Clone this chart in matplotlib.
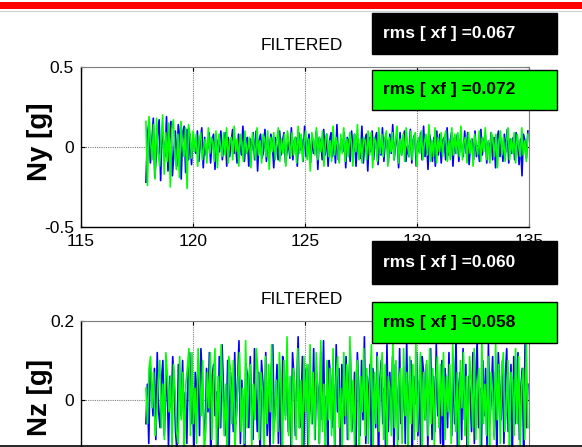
import numpy as np
import matplotlib
matplotlib.use('Agg')
import matplotlib.pyplot as plt
from matplotlib.patches import Rectangle
from matplotlib.lines import Line2D

plt.rcParams['font.family'] = ['Liberation Sans', 'DejaVu Sans']
plt.rcParams['axes.unicode_minus'] = False

# ---------------- data ----------------
x_ticks = [115, 120, 125, 130, 135]
x_ticklabels = ['115', '120', '125', '130', '135']
ny_yticks = [-0.5, 0, 0.5]
ny_yticklabels = ['-0.5', '0', '0.5']
nz_yticks = [0, 0.2]
nz_yticklabels = ['0', '0.2']

t_start, t_end = 117.9, 134.95
G_PER_UNIT = 0.01  # series below are in hundredths of g

ny_blue = [
    -22, 8, 15, -10, 3, 18, -19, -6, 8, 17, -21, 12, 2, -6, 19, -15, 5, 16, -18, -4, 10, -12, 14, 6, -20,
    9, 13, -16, 11, -8,
    8, -11, 5, 2, -4, 10, -9, 3, 12, -13, 6, -5, -1, 9, -10, 4, 8, -14, 5, 0, -3, 10, -8, 2, 9, -12, 6,
    -6, 3, 11, -4, 3, -10, 8, 1, -5, 13, -9, 4, 6, -12, 5, -2, 9, -8, 10, -15, 4, 8, -7, -3, 11, -9, 5, -4,
    8, 3, -13, 6, 1, -8, 10, -5, 4, 9, -10, -3, 3, -7, 12, -8, 4, 6, -12, 9, -2, 5, -9, 13, -6, 1, 8, -10,
    5, -4, 0, 10, -14, 6, 3, -8, 11, -5, 8, -12, 4, 9, -6, 3, -10, 14, -8, -1, 5, -3, 9, -13, 6, 4, -9, 10,
    -4, 8, -12, 5, 1, -7, 13, -10, 4, 8, -15, 6, -3, 10, -8, 5, 9, -11, 3, -5, 12, -9, 6, 4, -10, 8, -4, 14,
    -8, 3, 6, -13, 9, -5, 4, 10, -9, 1, -6, 11, -10, 5, 8, -12, 4, -3, 9, -8, 13, -6, 5, -14, 8, 3, -9, 6,
    -12, 10, -5, 8, -10, 4, 6, -8, 12, -5, 3, 9, -12, 6, -4, 8, -9, 5, 1, -6, 10, -4, 9, -11, 3, 5, -8, 10,
    -6, 1, -9, 11, -5, 4, 8, -10, 3, -3, 9, -8, 6, -13, 5, 10, -6, 4, -9, 8, -3, 11, -10, 5, -4, 6, -8, 9,
    3, -11, 5, -18, 8, 4, -7, 10,
]

ny_green = [
    16, -24, 19, 4, -8, 14, -20, 18, -3, -12, 5, 20, -17, 9, -9, 15, -25, 11, 17, -4, -14, 8, -19, 16, 2,
    -6, 12, -26, 14, 7,
    -7, 10, -3, 8, -12, 4, 9, -8, -1, 5, -10, 12, -4, 6, 3, -9, 10, -13, 8, 1, -6, 9, -5, 12, -10, 4, 6,
    -8, 13, -3, 5, -12, 8, 3, -9, 10, -4, -1, 6, -13, 9, 1, -8, 12, -5, 4, -10, 8, 5, -6, 10, -14, 6, -3,
    9, -8, 4, 12, -9, 5, -4, 8, -12, 10, 3, -6, 9, -5, 6, -10, 13, -4, 8, -9, 3, 10, -8, 5, -15, 9, 4, -5,
    12, -8, 6, -3, 10, -12, 5, 8, -6, 4, -9, 13, -5, 6, 1, -10, 8, -4, 12, -9, 5, -6, 9, 3, -12, 8, -3, 14,
    -8, 5, -10, 6, 4, -8, 10, -5, 9, -13, 6, 3, -9, 12, -4, 8, -6, 5, 10, -12, 6, -3, 9, -8, 4, 13, -10, 5,
    -5, 8, -9, 12, 1, -6, 10, -8, 5, 9, -12, 6, -4, 10, -8, 3, 8, -5, 14, -9, 4, -6, 12, -10, 6, -3, 9, -6,
    5, 10, -9, 4, -8, 12, -5, 8, -4, 9, -6, 13, -8, 3, 6, -10, 9, -4, 5, -12, 8, 1, -5, 10, -9, 6, -3, 12,
    -8, 4, -10, 9, 5, -6, 8, -13, 4, 10, -5, 6, -9, 3, 12, -8, 5, -4, 9, -10, 8, 1, -6, 12, -5, 4, -9, 8,
]

nz_blue = [
    -6, 4, -11, 9, 3, -4, 8, -10, 12, -3, -7, 5, 10, -9, 1, 7, -12, 6, -2, 11, 4, -8, -13, 9, 5, -4, 10, -7,
    2, -11, 8, 12, -6, 3, -14, 7, -1, 10, -9, 13, 4, -5, -10, 8, -3, 12, -15, 6, 9, -4, 2, -12, 11, -7, 14,
    3, -9, -5, 10, -13, 7, 1, -8, 12, -6, 4, 15, -11, 5, -2, -14, 9, 6, -7, 11, -3, -10, 13, 2, -8, 7, -16,
    10, 4, -5, 12, -9, 3, -12, 8, 14, -6, -1, 9, -11, 5, -15, 11, 7, -4, 10, -8, 2, -13, 12, 6, -9, 4, 16,
    -7, -3, 11, -12, 5, 8, -14, 9, -2, -6, 13, -10, 7, 3, -11, 12, -5, 15, -9, 1, -13, 10, 6, -7, 4, -12,
    14, -3, 8, -15, 9, 2, -6, 11, -10, 5, 13, -8, -4, 7, -14, 12, 3, -9, 10, -5, 16, -11, 6, -2, 9, -13, 8,
    4, -7, 12, -16, 5, 10, -6, 3, -12, 14, -8, 7, -4, 11, -15, 9, 2, -10, 13, -6, -3, 8, -11, 15, -7, 4, 10,
    -13, 6, -1, 12, -9, 5, -14, 11, 7, -5, 9, -12, 3, 13, -10, 6, -8, 14, -4, 2, -11, 10, -15, 8, 5, -7, 12,
    -3, -9, 11, -6, 16, -12, 4, 7, -10, 13, -5, 9, -14, 6, 2, -8, 12, -11, 5, 15, -7, 3, -13, 10, -4, 8,
    -12, 14, -6, 1, 11, -9, 7, -15, 12, 4, -5, 10, -11, 6, 13, -8, -2, 9, -14, 11, -6, 5, 12, -10, 3, 8,
    -13, 14, -7, 4,
]

nz_green = [
    3, -6, 8, 11, -2, 7, -9, -4, 5, 10, -7, 4, -10, 12, 6, -3, 6, -12, 9, 2, -8, -11, 11, -5, 7, -13, 4, 8,
    13, -9, 12, -6, 3, -11, 13, 5, -4, 10, -14, -7, 7, -2, 12, -10, 5, 13, -12, 6, -7, 14, 2, -9, 4, -15,
    11, 8, -6, 10, -13, -3, 5, 12, -8, 3, -11, 15, -7, 6, 9, -12, 4, -5, 13, 7, -10, 7, 2, -14, 11, -6, 9,
    -3, 14, -11, -4, 5, -8, 12, 3, -13, 10, -5, 16, -9, 6, -12, 8, 4, -10, 13, -7, 5, -15, 11, -3, 9, -12,
    14, -6, 7, -10, 12, 2, -11, 15, -8, 4, -13, 10, -5, 8, -9, 13, -12, 6, 11, -7, 3, -14, 12, -4, 9, -10,
    16, -8, 5, -12, 7, 10, -15, 6, -3, 13, -9, 8, -11, 4, 14, -13, 7, -6, 11, -8, 5, 12, -10, 9, -14, 6, 3,
    -9, 15, -7, 10, -12, 5, 8, -11, 13, -4, 7, -13, 11, -6, 9, -10, 14, -8, 4, 12, -15, 7, -5, 10, -9, 13,
    -6, 8, -12, 5, 11, -7, 9, -4, 12, -10, 6, -3, 9, -11, 14, 4, -8, 7, -13, 10, -2, 12, -9, 6, -14, 11, 5,
    -7, 13, -10, 3, 8, -12, 15, -6, 4, -9, 11, -13, 7, 2, -10, 14, -5, 9, -11, 6, 12, -8, -3, 10, -14, 7, 5,
    -9, 13, -6, 11, -12, 4, 8, -10, 15, -7,
]

title_text = 'FILTERED'
ny_label = 'Ny [g]'
nz_label = 'Nz [g]'
rms_ny = ['rms [ xf ] =0.067', 'rms [ xf ] =0.072']
rms_nz = ['rms [ xf ] =0.060', 'rms [ xf ] =0.058']

# ---------------- layout ----------------
W, H = 582, 447
fig = plt.figure(figsize=(W / 100, H / 100), dpi=100)


def fx(px):
    return px / W


def fy(py):
    return 1 - py / H


BLUE = '#0000FF'
GREEN = '#00FF00'
FS = 12.5


def make_axes(top_px, bottom_px):
    return fig.add_axes([fx(81), fy(bottom_px), fx(529) - fx(81), (bottom_px - top_px) / H])


def style(ax, ylim, yticks, yticklabels, show_x=True):
    ax.set_xlim(115, 135)
    ax.set_ylim(*ylim)
    ax.set_xticks(x_ticks)
    ax.set_xticklabels(x_ticklabels)
    ax.set_yticks(yticks)
    ax.set_yticklabels(yticklabels)
    ax.grid(True, color='#7f7f7f', linestyle=(0, (1, 1)), linewidth=0.8)
    ax.set_axisbelow(True)
    ax.tick_params(direction='in', top=True, right=True, length=3, width=0.8,
                   labelsize=FS, pad=5, colors='black')
    if not show_x:
        ax.tick_params(labelbottom=False)
    for s in ['top', 'right']:
        ax.spines[s].set_linestyle((0, (1, 1)))
        ax.spines[s].set_color('#7f7f7f')
        ax.spines[s].set_linewidth(0.8)
    for s in ['left', 'bottom']:
        ax.spines[s].set_color('black')
        ax.spines[s].set_linewidth(1.0)


def plot_series(ax, vals, color):
    v = np.asarray(vals, dtype=float) * G_PER_UNIT
    t = np.linspace(t_start, t_end, len(v))
    ax.plot(t, v, color=color, lw=1.2)


ax1 = make_axes(67, 227)
plot_series(ax1, ny_blue, BLUE)
plot_series(ax1, ny_green, GREEN)
style(ax1, (-0.5, 0.5), ny_yticks, ny_yticklabels)

ax2 = make_axes(321, 479)
plot_series(ax2, nz_blue, BLUE)
plot_series(ax2, nz_green, GREEN)
style(ax2, (-0.2, 0.2), nz_yticks, nz_yticklabels, show_x=False)

# titles and y labels
fig.text(fx(302), fy(46), title_text, ha='center', va='center', fontsize=FS)
fig.text(fx(302), fy(300), title_text, ha='center', va='center', fontsize=FS)
fig.text(fx(40), fy(142), ny_label, ha='center', va='center', rotation=90,
         fontsize=20, fontweight='bold')
fig.text(fx(40), fy(398), nz_label, ha='center', va='center', rotation=90,
         fontsize=20, fontweight='bold')


def rms_box(top_px, bot_px, face, txt, tcolor):
    r = Rectangle((fx(372), fy(bot_px)), fx(557) - fx(372), (bot_px - top_px) / H,
                  transform=fig.transFigure, facecolor=face, edgecolor='black',
                  linewidth=1.0, zorder=10)
    fig.patches.append(r)
    fig.text(fx(383), fy((top_px + bot_px) / 2), txt, ha='left', va='center',
             fontsize=FS, fontweight='bold', color=tcolor, zorder=11)


rms_box(13, 54, 'black', rms_ny[0], 'white')
rms_box(70, 110, GREEN, rms_ny[1], 'black')
rms_box(241, 284, 'black', rms_nz[0], 'white')
rms_box(302, 343, GREEN, rms_nz[1], 'black')

# red band at top, line at bottom
fig.patches.append(Rectangle((0, fy(9)), 1, 7 / H, transform=fig.transFigure,
                             facecolor='#FF0000', edgecolor='none', zorder=10))
fig.lines.append(Line2D([0, 1], [fy(10.5), fy(10.5)], transform=fig.transFigure,
                        color='#d0d0d0', lw=0.8, zorder=10))
fig.lines.append(Line2D([0, 1], [fy(446.3), fy(446.3)], transform=fig.transFigure,
                        color='black', lw=1.2, zorder=10))

fig.savefig('out.png', dpi=100)
